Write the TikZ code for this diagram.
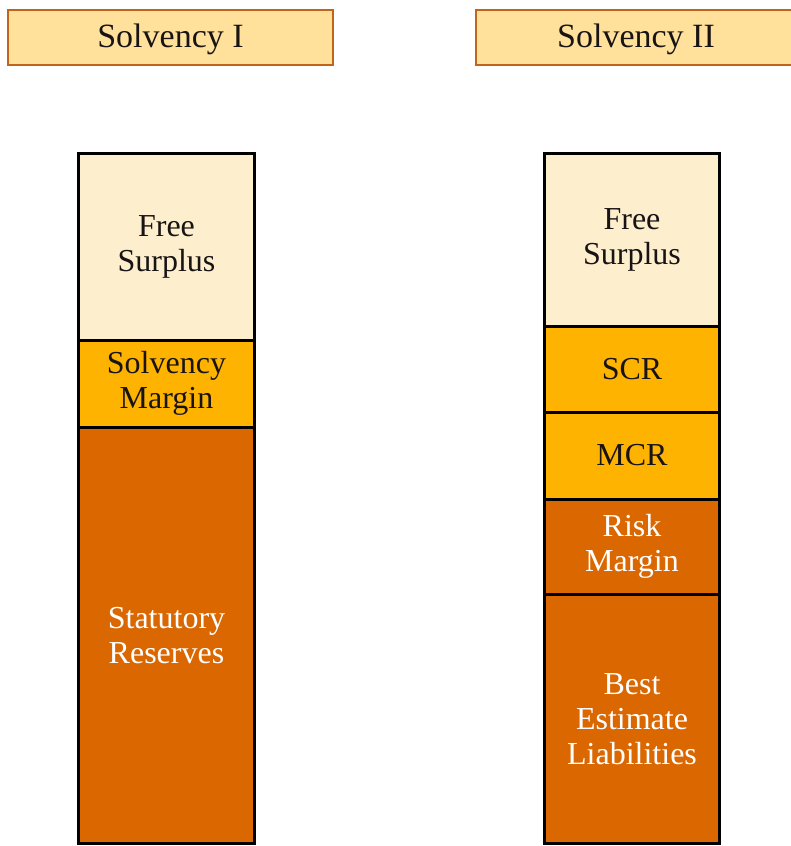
\documentclass[tikz,border=0pt]{standalone}
\usepackage{fontspec}
\setmainfont{Liberation Serif}
\usetikzlibrary{positioning}

\begin{document}
\begin{tikzpicture}[
  x=1pt, y=-1pt,
  % --- node styles ---
  hdr/.style={draw=cHdrLine, fill=cHdr, line width=2pt,
              minimum width=#1, minimum height=55pt,
              text height=24pt, text depth=4pt,
              inner sep=0pt, outer sep=0pt, text=cInk,
              font=\fontsize{34}{40}\selectfont},
  blk/.style={draw=black, fill=#1, line width=3pt,
              inner sep=0pt, outer sep=0pt, align=center,
              font=\fontsize{32}{35}\selectfont},
  lite/.style={text=cInk},
  dark/.style={text=white},
  colI/.style={minimum width=176pt},
  colII/.style={minimum width=175pt},
]
  % --- Colours ---
  \definecolor{cHdr}{RGB}{255,225,155}
  \definecolor{cHdrLine}{RGB}{192,101,26}
  \definecolor{cCream}{RGB}{253,239,206}
  \definecolor{cAmber}{RGB}{254,179,0}
  \definecolor{cRust}{RGB}{218,103,0}
  \definecolor{cInk}{RGB}{25,20,20}

  \useasboundingbox (0,0) rectangle (791,846);

  % --- Headers ---
  \node[hdr=325pt] (hdrI)  at (170.5,37.5) {Solvency I};
  \node[hdr=320pt] (hdrII) at (636,37.5)   {Solvency II};

  % --- Solvency I column ---
  \node[blk=cCream, colI, lite, minimum height=186.5pt, anchor=north]
    (fsI) at (166.5,153.5) {Free\\Surplus};
  \node[blk=cAmber, colI, lite, minimum height=87pt, below=0pt of fsI]
    (sm) {Solvency\\Margin};
  \node[blk=cRust, colI, dark, minimum height=416.5pt, below=0pt of sm]
    (sr) {Statutory\\Reserves};

  % --- Solvency II column ---
  \node[blk=cCream, colII, lite, minimum height=172.5pt, anchor=north]
    (fsII) at (632,153.5) {Free\\Surplus};
  \node[blk=cAmber, colII, lite, minimum height=86pt, below=0pt of fsII]
    (scr) {SCR};
  \node[blk=cAmber, colII, lite, minimum height=87pt, below=0pt of scr]
    (mcr) {MCR};
  \node[blk=cRust, colII, dark, minimum height=95pt, below=0pt of mcr]
    (rm) {Risk\\Margin};
  \node[blk=cRust, colII, dark, minimum height=249.5pt, below=0pt of rm]
    (bel) {Best\\Estimate\\Liabilities};
\end{tikzpicture}
\end{document}
